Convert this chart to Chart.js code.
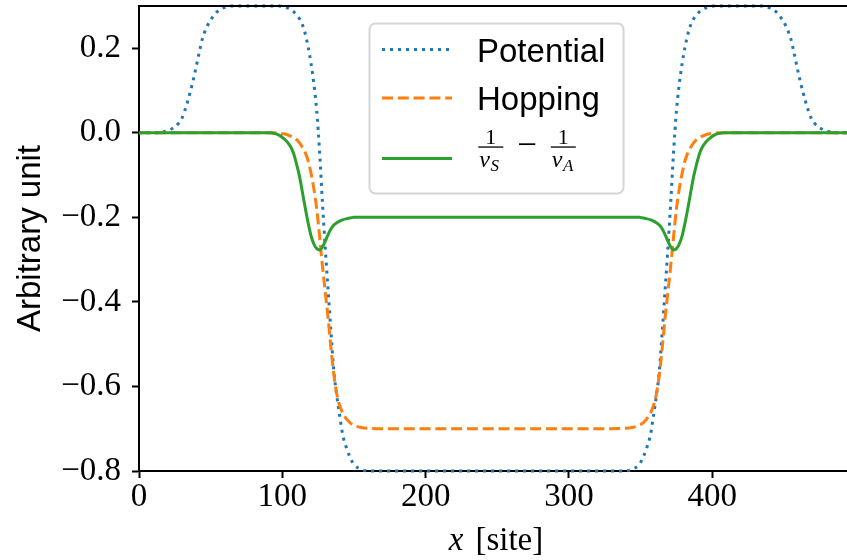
<!DOCTYPE html>
<html>
<head>
<meta charset="utf-8">
<script src="https://cdn.jsdelivr.net/npm/chart.js@4.4.0/dist/chart.umd.min.js"></script>
<style>
  html, body { margin: 0; padding: 0; background: #fff; overflow: hidden; }
</style>
</head>
<body>
<canvas id="chart1" width="847" height="560"></canvas>
<script>
// dados (x em sites)
const sites = [0, 10, 15, 20, 25, 28, 30, 32, 34, 36, 38, 40, 42, 44, 46, 48, 50, 55, 60, 65,
  70, 80, 90, 95, 98, 100, 103, 106, 108, 110, 112, 114, 116, 118, 120, 122, 124, 126, 128, 130,
  132, 134, 136, 138, 140, 142, 145, 148, 150, 155, 160, 170, 200,
  249.5,
  299, 329, 339, 344, 349, 351, 354, 357, 359, 361, 363, 365, 367, 369, 371, 373, 375, 377, 379, 381,
  383, 385, 387, 389, 391, 393, 396, 399, 401, 404, 409, 419, 429, 434, 439, 444, 449, 451, 453, 455,
  457, 459, 461, 463, 465, 467, 469, 471, 474, 479, 484, 489, 499];

const potential = [0, 0, 0.001, 0.005, 0.014, 0.024, 0.035, 0.053, 0.075, 0.1, 0.127, 0.158, 0.19, 0.22, 0.24, 0.255, 0.267, 0.288, 0.297, 0.3,
  0.3, 0.3, 0.3, 0.3, 0.3, 0.299, 0.296, 0.291, 0.286, 0.279, 0.27, 0.256, 0.234, 0.203, 0.165, 0.116, 0.052, -0.045, -0.165, -0.275,
  -0.375, -0.475, -0.565, -0.622, -0.668, -0.712, -0.748, -0.773, -0.785, -0.796, -0.8, -0.8, -0.8,
  -0.8,
  -0.8, -0.8, -0.8, -0.796, -0.785, -0.773, -0.748, -0.712, -0.668, -0.622, -0.565, -0.475, -0.375, -0.275, -0.165, -0.045, 0.052, 0.116, 0.165, 0.203,
  0.234, 0.256, 0.27, 0.279, 0.286, 0.291, 0.296, 0.299, 0.3, 0.3, 0.3, 0.3, 0.3, 0.3, 0.297, 0.288, 0.267, 0.255, 0.24, 0.22,
  0.19, 0.158, 0.127, 0.1, 0.075, 0.053, 0.035, 0.024, 0.014, 0.005, 0.001, 0, 0];

const hopping = [0, 0, 0, 0, 0, 0, 0, 0, 0, 0, 0, 0, 0, 0, 0, 0, 0, 0, 0, 0,
  0, 0, 0, 0, -0.001, -0.002, -0.004, -0.008, -0.011, -0.016, -0.024, -0.034, -0.047, -0.066, -0.095, -0.132, -0.18, -0.245, -0.315, -0.378,
  -0.44, -0.512, -0.573, -0.618, -0.645, -0.662, -0.678, -0.688, -0.692, -0.697, -0.699, -0.7, -0.7,
  -0.7,
  -0.7, -0.7, -0.699, -0.697, -0.692, -0.688, -0.678, -0.662, -0.645, -0.618, -0.573, -0.512, -0.44, -0.378, -0.315, -0.245, -0.18, -0.132, -0.095, -0.066,
  -0.047, -0.034, -0.024, -0.016, -0.011, -0.008, -0.004, -0.002, -0.001, 0, 0, 0, 0, 0, 0, 0, 0, 0, 0, 0,
  0, 0, 0, 0, 0, 0, 0, 0, 0, 0, 0, 0, 0];

const invDiff = [0, 0, 0, 0, 0, 0, 0, 0, 0, 0, 0, 0, 0, 0, 0, 0, 0, 0, 0, 0,
  0, 0, 0, -0.002, -0.006, -0.011, -0.02, -0.034, -0.05, -0.075, -0.103, -0.14, -0.178, -0.213, -0.243, -0.263, -0.274, -0.277, -0.27, -0.256,
  -0.24, -0.227, -0.218, -0.213, -0.209, -0.206, -0.203, -0.201, -0.2, -0.2, -0.2, -0.2, -0.2,
  -0.2,
  -0.2, -0.2, -0.2, -0.2, -0.2, -0.201, -0.203, -0.206, -0.209, -0.213, -0.218, -0.227, -0.24, -0.256, -0.27, -0.277, -0.274, -0.263, -0.243, -0.213,
  -0.178, -0.14, -0.103, -0.075, -0.05, -0.034, -0.02, -0.011, -0.006, -0.002, 0, 0, 0, 0, 0, 0, 0, 0, 0, 0,
  0, 0, 0, 0, 0, 0, 0, 0, 0, 0, 0, 0, 0];

const xTicks = [0, 100, 200, 300, 400];
const yTicks = [-0.8, -0.6, -0.4, -0.2, 0.0, 0.2];
const legendNames = ['Potential', 'Hopping'];

const blue = '#1f77b4', orange = '#ff7f0e', green = '#2ca02c';
const serif = "'Liberation Serif', 'DejaVu Serif', serif";
const sans = "'Liberation Sans', 'DejaVu Sans', sans-serif";

function pts(ys) {
  return sites.map((x, i) => ({ x: x, y: ys[i] }));
}

function fmt(v) {
  return (v < -1e-9 ? '\u2212' : '') + Math.abs(v).toFixed(1);
}

// moldura, rótulos dos eixos e legenda
const framePlugin = {
  id: 'frame',
  afterDraw(chart) {
    const ctx = chart.ctx;
    const a = chart.chartArea;
    ctx.save();
    ctx.strokeStyle = '#000';
    ctx.lineWidth = 2;
    ctx.beginPath();
    ctx.moveTo(a.left - 1, a.top);
    ctx.lineTo(a.right, a.top);
    ctx.stroke();

    ctx.fillStyle = '#000';
    ctx.font = '33px ' + sans;
    ctx.textAlign = 'center';
    ctx.textBaseline = 'alphabetic';
    ctx.translate(40, (a.top + a.bottom) / 2);
    ctx.rotate(-Math.PI / 2);
    ctx.fillText('Arbitrary unit', 0, 0);
    ctx.restore();

    // x [site]
    ctx.save();
    ctx.fillStyle = '#000';
    ctx.textBaseline = 'alphabetic';
    ctx.textAlign = 'left';
    ctx.font = 'italic 33px ' + serif;
    const wx = ctx.measureText('x').width;
    ctx.font = '33px ' + serif;
    const ws = ctx.measureText('[site]').width;
    const gap = 12;
    const x0 = 496 - (wx + gap + ws) / 2;
    ctx.font = 'italic 33px ' + serif;
    ctx.fillText('x', x0, 550);
    ctx.font = '33px ' + serif;
    ctx.fillText('[site]', x0 + wx + gap, 550);
    ctx.restore();

    // legenda
    ctx.save();
    const bx = 369.5, by = 23.5, bw = 254, bh = 170, r = 6;
    ctx.beginPath();
    ctx.moveTo(bx + r, by);
    ctx.arcTo(bx + bw, by, bx + bw, by + bh, r);
    ctx.arcTo(bx + bw, by + bh, bx, by + bh, r);
    ctx.arcTo(bx, by + bh, bx, by, r);
    ctx.arcTo(bx, by, bx + bw, by, r);
    ctx.closePath();
    ctx.fillStyle = 'rgba(255,255,255,0.8)';
    ctx.fill();
    ctx.strokeStyle = '#d6d6d6';
    ctx.lineWidth = 2;
    ctx.stroke();

    const handles = [[49.5, blue, [3, 5]], [98, orange, [11, 4.8]], [158.5, green, []]];
    handles.forEach(h => {
      ctx.beginPath();
      ctx.setLineDash(h[2]);
      ctx.lineCap = 'butt';
      ctx.strokeStyle = h[1];
      ctx.lineWidth = 3;
      ctx.moveTo(382, h[0]);
      ctx.lineTo(452, h[0]);
      ctx.stroke();
    });
    ctx.setLineDash([]);

    ctx.fillStyle = '#000';
    ctx.font = '33px ' + sans;
    ctx.textAlign = 'left';
    ctx.textBaseline = 'alphabetic';
    ctx.fillText(legendNames[0], 477, 62);
    ctx.fillText(legendNames[1], 477, 110);

    // 1/v_S - 1/v_A
    function frac(cx, barY, sub) {
      ctx.font = '22px ' + serif;
      ctx.textAlign = 'center';
      ctx.fillText('1', cx, barY - 3);
      ctx.fillRect(cx - 12.5, barY - 0.6, 25, 1.3);
      ctx.textAlign = 'left';
      ctx.font = 'italic 24px ' + serif;
      const wv = ctx.measureText('v').width;
      ctx.fillText('v', cx - 11.5, barY + 20);
      ctx.font = 'italic 17px ' + serif;
      ctx.fillText(sub, cx - 11.5 + wv + 0.5, barY + 24);
    }
    frac(490.8, 147, 'S');
    ctx.font = '35px ' + serif;
    ctx.textAlign = 'center';
    ctx.fillText('\u2212', 527, 155.5);
    frac(563.3, 147, 'A');
    ctx.restore();
  }
};

const axisGrid = { display: true, drawOnChartArea: false, drawTicks: true, tickLength: 7, tickWidth: 2, tickColor: '#000' };
const axisBorder = { display: true, color: '#000', width: 2 };

new Chart(document.getElementById('chart1'), {
  type: 'line',
  data: {
    datasets: [
      { label: legendNames[0], data: pts(potential), borderColor: blue, borderWidth: 3, borderDash: [3, 5], order: 3 },
      { label: legendNames[1], data: pts(hopping), borderColor: orange, borderWidth: 3, borderDash: [11, 4.8], order: 2 },
      { label: '1/vS - 1/vA', data: pts(invDiff), borderColor: green, borderWidth: 3, order: 1 }
    ]
  },
  options: {
    responsive: false,
    animation: false,
    devicePixelRatio: 1,
    layout: { padding: { top: 6, right: 0, left: 0, bottom: 0 } },
    plugins: { legend: { display: false }, tooltip: { enabled: false } },
    elements: {
      point: { radius: 0 },
      line: { cubicInterpolationMode: 'monotone', borderCapStyle: 'butt', fill: false }
    },
    datasets: { line: { clip: 4 } },
    scales: {
      x: {
        type: 'linear',
        min: 0,
        max: 494,
        afterBuildTicks: s => { s.ticks = xTicks.map(v => ({ value: v })); },
        afterFit: s => { s.height = 89; s.paddingLeft = 0; s.paddingRight = 0; },
        ticks: { autoSkip: false, maxRotation: 0, padding: 0, color: '#000', font: { family: serif, size: 33 }, callback: v => String(v) },
        grid: axisGrid,
        border: axisBorder
      },
      y: {
        type: 'linear',
        min: -0.8,
        max: 0.3,
        afterBuildTicks: s => { s.ticks = yTicks.map(v => ({ value: v })); },
        afterFit: s => { s.width = 139; s.paddingTop = 0; s.paddingBottom = 0; },
        ticks: { autoSkip: false, padding: 11, color: '#000', font: { family: serif, size: 33 }, callback: v => fmt(v) },
        grid: axisGrid,
        border: axisBorder
      }
    }
  },
  plugins: [framePlugin]
});
</script>
</body>
</html>
